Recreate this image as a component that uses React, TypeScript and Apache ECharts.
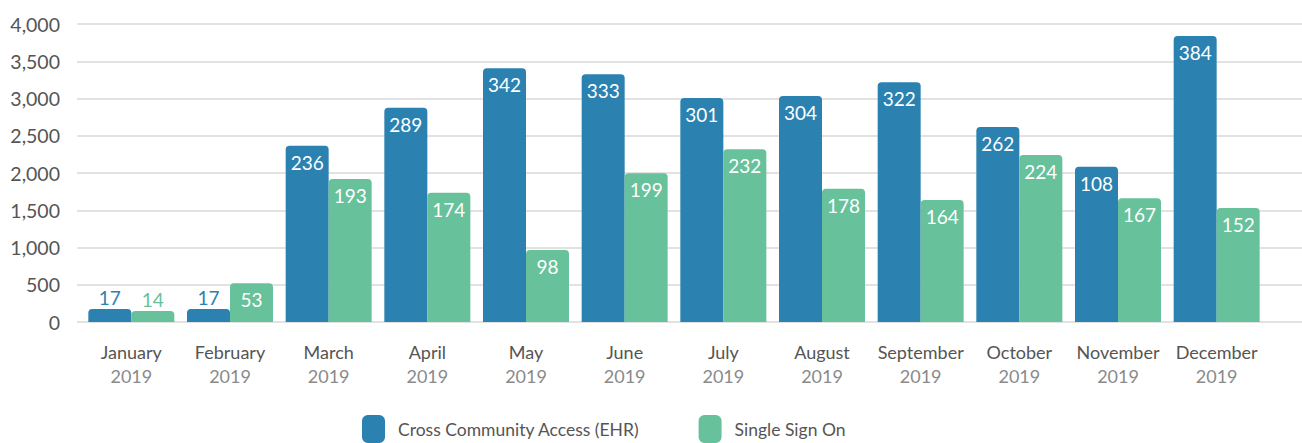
import React, { useEffect, useRef } from "react";
import * as echarts from "echarts";

const months = ["January", "February", "March", "April", "May", "June", "July", "August", "September", "October", "November", "December"];
const year = "2019";
const ehrValues = [174, 174, 2366, 2877, 3405, 3325, 3007, 3034, 3217, 2617, 2085, 3839];
const ehrLabels = ["17", "17", "236", "289", "342", "333", "301", "304", "322", "262", "108", "384"];
const ssoValues = [148, 519, 1919, 1736, 966, 1996, 2318, 1790, 1638, 2242, 1660, 1530];
const ssoLabels = ["14", "53", "193", "174", "98", "199", "232", "178", "164", "224", "167", "152"];
const seriesNames = ["Cross Community Access (EHR)", "Single Sign On"];
const yTicks = { min: 0, max: 4000, interval: 500 };

const BLUE = "#2b82b0";
const GREEN = "#67c29b";
const FONT = "Lato";

function buildData(values: number[], labels: string[], color: string) {
  return values.map((v, i) => {
    const outside = v < 300;
    return {
      value: v,
      label: {
        show: true,
        formatter: labels[i],
        position: outside ? "top" : "insideTop",
        distance: outside ? 2 : 7,
        color: outside ? color : "#ffffff",
        fontSize: 19,
        fontFamily: FONT,
      },
    };
  });
}

export default function App() {
  const ref = useRef<HTMLDivElement>(null);
  useEffect(() => {
    document.body.style.margin = "0";
    const chart = echarts.init(ref.current!, null, { renderer: "svg" });
    chart.setOption({
      animation: false,
      backgroundColor: "#ffffff",
      textStyle: { fontFamily: FONT },
      legend: {
        left: 362,
        top: 415,
        padding: 0,
        itemWidth: 23,
        itemHeight: 28,
        itemGap: 59,
        icon: "roundRect",
        textStyle: { fontSize: 17.5, color: "#555", fontFamily: FONT, padding: [3, 0, 0, 8] },
        data: seriesNames,
      },
      grid: [
        { left: 77, right: 0, top: 24, height: 298 },
        { left: 82, width: 1184, top: 24, height: 298 },
      ],
      xAxis: [
        { type: "value", gridIndex: 0, show: false, min: 0, max: 1 },
        {
          type: "category",
          gridIndex: 1,
          data: months,
          axisLine: { show: false },
          axisTick: { show: false },
          axisLabel: {
            margin: 18,
            interval: 0,
            formatter: (m: string) => `{m|${m}}\n{y|${year}}`,
            rich: {
              m: { color: "#555", fontSize: 18, lineHeight: 24, fontFamily: FONT },
              y: { color: "#8a8a8a", fontSize: 18, lineHeight: 24, fontFamily: FONT },
            },
          },
        },
      ],
      yAxis: [
        {
          type: "value",
          gridIndex: 0,
          ...yTicks,
          axisLine: { show: false },
          axisTick: { show: false },
          axisLabel: {
            color: "#555",
            fontSize: 19.5,
            fontFamily: FONT,
            margin: 17,
            formatter: (v: number) => v.toLocaleString("en-US"),
          },
          splitLine: { lineStyle: { color: "#e2e2e2", width: 2 } },
        },
        { type: "value", gridIndex: 1, ...yTicks, show: false, splitLine: { show: false } },
      ],
      series: [
        {
          name: seriesNames[0],
          type: "bar",
          xAxisIndex: 1,
          yAxisIndex: 1,
          barWidth: 43,
          barGap: "0%",
          itemStyle: { color: BLUE, borderRadius: [4, 4, 0, 0] },
          data: buildData(ehrValues, ehrLabels, BLUE),
        },
        {
          name: seriesNames[1],
          type: "bar",
          xAxisIndex: 1,
          yAxisIndex: 1,
          barWidth: 43,
          barGap: "0%",
          itemStyle: { color: GREEN, borderRadius: [4, 4, 0, 0] },
          data: buildData(ssoValues, ssoLabels, GREEN),
        },
      ],
    });
    return () => chart.dispose();
  }, []);
  return <div ref={ref} style={{ width: 1302, height: 443 }} />;
}
